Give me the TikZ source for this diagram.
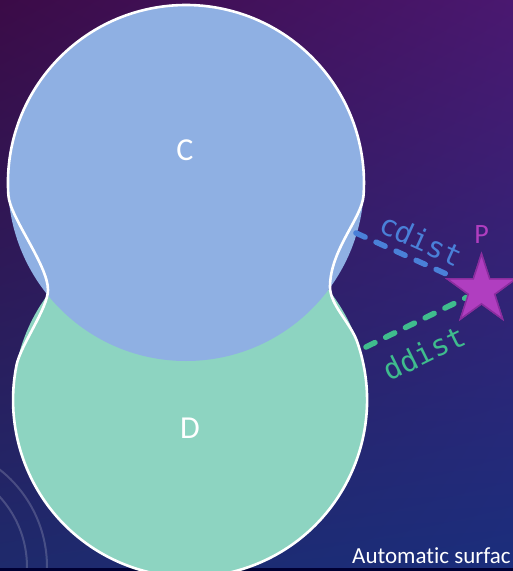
\documentclass[tikz,border=0pt]{standalone}
\usepackage{fontspec}
\setmainfont{Carlito}[Ligatures=NoCommon]
\newfontfamily\codefont{DejaVu Sans Mono}
\usepackage{tikz}
\usetikzlibrary{positioning,shapes.geometric,shadings}
\definecolor{bgTL}{HTML}{3B0B47}
\definecolor{bgTR}{HTML}{4A1870}
\definecolor{bgBL}{HTML}{1E2A6C}
\definecolor{bgBR}{HTML}{1A2E7C}
\definecolor{cfill}{HTML}{8FB0E3}
\definecolor{dfill}{HTML}{8DD4C1}
\definecolor{cline}{HTML}{4A80D8}
\definecolor{dline}{HTML}{3FBC8D}
\definecolor{pfill}{HTML}{B03EC0}
\definecolor{pdraw}{HTML}{8A2D9E}
\tikzset{
  blob/.style={circle, inner sep=0pt},
  outline/.style={draw=white, line width=2.6pt},
  dist/.style={line width=5.5pt, line cap=round, dash pattern=on 10pt off 12pt},
  blobname/.style={text=white, font=\fontsize{32}{34}\selectfont},
  distname/.style={font=\codefont\fontsize{29}{31}\selectfont, inner sep=0pt}
}
\begin{document}
\begin{tikzpicture}[x=1pt, y=-1pt,
    % styles for this figure
    point/.style={star, star points=5, star point ratio=2.6, minimum size=72pt, inner sep=0pt, fill=pfill, draw=pdraw, line width=1.5pt},
    deco/.style={draw=white, opacity=0.18, line width=2pt}
]
\useasboundingbox (0,0) rectangle (513,571);
\clip (0,0) rectangle (513,571);

% --- Background ---
\shade[upper left=bgTL, upper right=bgTR, lower left=bgBL, lower right=bgBR] (0,0) rectangle (513,571);
\draw[deco] (-77,567) circle (104);
\draw[deco] (-77,567) circle (124);
\fill[black!80!blue] (0,568) rectangle (513,571);

% --- Blobs C and D ---
\node[blob, fill=dfill, minimum size=354pt] (blobD) at (190,400) {};
\node[blob, fill=cfill, minimum size=356pt] (blobC) at (186,183) {};

% smooth union outline
\draw[outline] (8.4,195.4) arc[start angle=176, end angle=364, radius=178]
  .. controls (362,218) and (330,250) .. (330,287)
  .. controls (330,305) and (350.7,323) .. (357.3,342.1)
  arc[start angle=-19.1, end angle=191.4, radius=177]
  .. controls (20.5,345.4) and (48,308) .. (48,290)
  .. controls (48,265) and (9.9,217.4) .. cycle;

\node[blobname] (Clbl) at (185,150) {C};
\node[blobname] (Dlbl) at (190,428) {D};

% --- Point P and distances ---
\node[point] (P) at (481.5,290) {};
\node[above=8pt of P, inner sep=0pt, text=pfill, font=\fontsize{28}{30}\selectfont] (Plbl) {P};

\coordinate (cfoot) at (356,233);
\coordinate (dfoot) at (366,347);

\draw[dist, cline] (cfoot) -- (P)
    node[pos=0.57, sloped, above=7pt, distname, text=cline] {cdist};
\draw[dist, dline] (dfoot) -- (P)
    node[pos=0.44, sloped, below=17pt, distname, text=dline] {ddist};
\node[point] at (P) {};

% caption
\node[anchor=base west, inner sep=0pt, text=white, font=\fontsize{23}{25}\selectfont] (caption) at (352,563) {Automatic surfac};

\end{tikzpicture}
\end{document}
